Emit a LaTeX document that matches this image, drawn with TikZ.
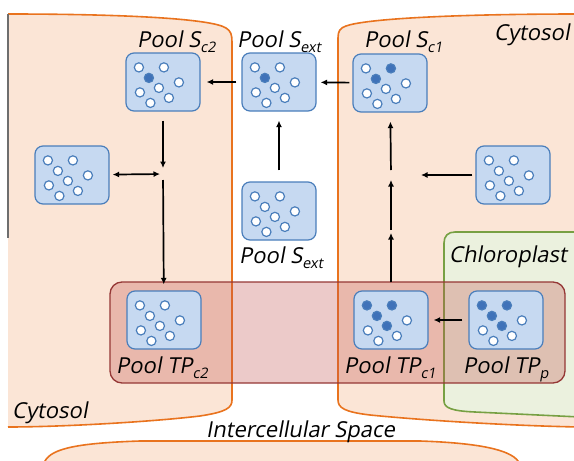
\documentclass[tikz,border=0pt]{standalone}
\usepackage{fontspec}
\setmainfont{Open Sans}[FakeSlant=0.18]
\usetikzlibrary{arrows.meta}

\definecolor{cellfill}{HTML}{FBE5D6}
\definecolor{celledge}{HTML}{E9731E}
\definecolor{chlfill}{HTML}{EBF1DE}
\definecolor{chledge}{HTML}{77A043}
\definecolor{bandfill}{HTML}{C0504D}
\definecolor{bandedge}{HTML}{953735}
\definecolor{poolfill}{HTML}{C6D9F1}
\definecolor{pooledge}{HTML}{4A7EBB}
\definecolor{dotblue}{HTML}{3F72B9}
\definecolor{sidegray}{HTML}{6E6E6E}

% subscript of a pool name
\newcommand\subx[1]{\raisebox{-5pt}{\fontsize{14.5}{14.5}\selectfont #1}}

% one small circle inside a pool box, offset from its top-left corner
\newcommand\dotat[4]{%
  \ifnum#4=1\relax\def\dotcol{dotblue}\else\def\dotcol{white}\fi
  \draw[dotline,fill=\dotcol] ([shift={(#2,#3)}]#1.north west) circle[radius=4.6];}

% the eight circles of a pool; #2..#9 = 1 for a filled circle
\newcommand\pooldots[9]{%
  \dotat{#1}{13.5}{15}{#2}\dotat{#1}{38.5}{15}{#3}%
  \dotat{#1}{23.5}{25.5}{#4}\dotat{#1}{53.5}{30}{#5}%
  \dotat{#1}{33.5}{35.5}{#6}\dotat{#1}{14.5}{40}{#7}%
  \dotat{#1}{43.5}{45.5}{#8}\dotat{#1}{25}{50.5}{#9}}

\begin{document}
\begin{tikzpicture}[x=1pt,y=-1pt,
  pool/.style={draw=pooledge,fill=poolfill,line width=1.2pt,rounded corners=8pt,
    minimum width=74pt,minimum height=58pt,inner sep=0pt},
  dotline/.style={draw=pooledge,line width=1.2pt},
  lbl/.style={anchor=base west,inner sep=0pt,font=\fontsize{22}{25}\selectfont},
  arr/.style={line width=1.7pt,-{Latex[length=6.5pt,width=6pt]}},
  darr/.style={line width=1.7pt,{Latex[length=6.5pt,width=6pt]}-{Latex[length=6.5pt,width=6pt]}}]

\useasboundingbox (0,0) rectangle (574,461);

% cytosol of the left cell
\path[fill=cellfill] (8,14) .. controls (130,14) and (212,19) .. (226,28)
  .. controls (231,31) and (232,35) .. (232,42) -- (232,400)
  .. controls (232,408) and (226,412) .. (200,416)
  .. controls (150,422) and (60,427) .. (8,427) -- cycle;
\draw[celledge,line width=1.6pt] (8,14) .. controls (130,14) and (212,19) .. (226,28)
  .. controls (231,31) and (232,35) .. (232,42) -- (232,400)
  .. controls (232,408) and (226,412) .. (200,416)
  .. controls (150,422) and (60,427) .. (8,427);
\draw[sidegray,line width=1.4pt] (8,14) -- (8,238);

% cytosol of the right cell
\path[fill=cellfill] (580,14) .. controls (450,14) and (365,19) .. (346,26)
  .. controls (340,28) and (338,31) .. (338,38) -- (338,400)
  .. controls (338,408) and (345,412) .. (370,415)
  .. controls (430,421) and (520,426) .. (580,427) -- cycle;
\draw[celledge,line width=1.6pt] (580,14) .. controls (450,14) and (365,19) .. (346,26)
  .. controls (340,28) and (338,31) .. (338,38) -- (338,400)
  .. controls (338,408) and (345,412) .. (370,415)
  .. controls (430,421) and (520,426) .. (580,427);

% chloroplast
\draw[chledge,fill=chlfill,line width=1.6pt] (580,232) -- (455,232)
  .. controls (448,232) and (444,236) .. (444,243) -- (444,401)
  .. controls (444,408) and (452,411) .. (475,412) -- (580,417);

% cell below the intercellular space
\draw[celledge,fill=cellfill,line width=1.6pt] (45,470) -- (45,461)
  .. controls (52,448) and (80,443) .. (140,441) -- (420,441)
  .. controls (480,443) and (510,450) .. (518,461) -- (518,470);

% triose-phosphate band
\draw[bandedge,fill=bandfill,fill opacity=0.3,line width=1.3pt,rounded corners=12pt]
  (110,282) rectangle (565,383);

% pools
\node[pool] (sc2)  at (163,82)  {};
\node[pool] (extT) at (279,82)  {};
\node[pool] (sc1)  at (390,83)  {};
\node[pool] (lp)   at (72,175)  {};
\node[pool] (rp)   at (513,175) {};
\node[pool] (extB) at (279,211) {};
\node[pool] (tpc2) at (164,320) {};
\node[pool] (tpc1) at (391,320) {};
\node[pool] (tpp)  at (506,320) {};

\pooldots{sc2}{0}{0}{1}{0}{0}{0}{0}{0}
\pooldots{extT}{0}{0}{1}{0}{0}{0}{0}{0}
\pooldots{sc1}{0}{1}{1}{0}{0}{0}{0}{0}
\pooldots{lp}{0}{0}{0}{0}{0}{0}{0}{0}
\pooldots{rp}{0}{0}{0}{0}{0}{0}{0}{0}
\pooldots{extB}{0}{0}{0}{0}{0}{0}{0}{0}
\pooldots{tpc2}{0}{0}{0}{0}{0}{0}{0}{0}
\pooldots{tpc1}{1}{1}{1}{0}{1}{0}{0}{0}
\pooldots{tpp}{1}{1}{1}{0}{1}{0}{0}{0}

% labels
\node[lbl] (lsc2)  at (137,47)  {Pool S\subx{c2}};
\node[lbl] (lextT) at (237,47)  {Pool S\subx{ext}};
\node[lbl] (lsc1)  at (364,47)  {Pool S\subx{c1}};
\node[lbl] (lextB) at (239,263) {Pool S\subx{ext}};
\node[lbl] (ltpc2) at (116,373) {Pool TP\subx{c2}};
\node[lbl] (ltpc1) at (344,373) {Pool TP\subx{c1}};
\node[lbl] (ltpp)  at (463,373) {Pool TP\subx{p}};
\node[lbl] (cyt1)  at (494,40)  {Cytosol};
\node[lbl] (cyt2)  at (12,418)  {Cytosol};
\node[lbl] (chl)   at (449,262) {Chloroplast};
\node[lbl] (ics)   at (206,437) {Intercellular Space};

% branch points of the flows
\coordinate (jL) at (163,174);
\coordinate (jR) at (391,175);
\coordinate (jM) at (391,232);

% flows
\draw[arr,shorten <=5pt,shorten >=6pt] (extT) -- (sc2);
\draw[arr,shorten <=3pt,shorten >=4pt] (sc1) -- (extT);
\draw[arr,shorten <=11pt,shorten >=9pt] (extB) -- (extT);
\draw[arr,shorten <=9pt,shorten >=6pt] (sc2) -- (jL);
\draw[darr,shorten <=3pt,shorten >=3pt] (lp) -- (jL);
\draw[arr,shorten <=6pt,shorten >=6pt] (jL) -- (tpc2);
\draw[arr,shorten <=8pt,shorten >=1pt] (tpc1) -- (jM);
\draw[arr,shorten <=2pt,shorten >=5pt] (jM) -- (jR);
\draw[arr,shorten <=5pt,shorten >=9pt] (jR) -- (sc1);
\draw[arr,shorten <=3pt,shorten >=30pt] (rp) -- (jR);
\draw[arr,shorten <=6pt,shorten >=5pt] (tpp) -- (tpc1);

\end{tikzpicture}
\end{document}
